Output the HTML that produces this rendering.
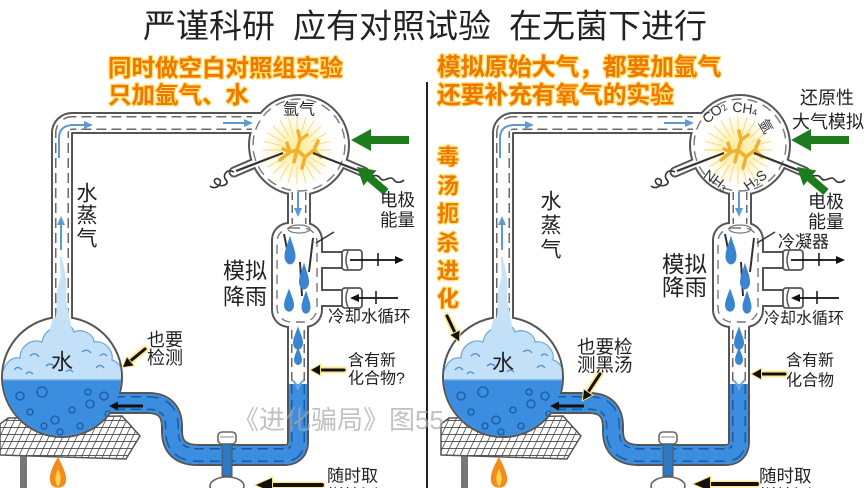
<!DOCTYPE html>
<html><head><meta charset="utf-8"><title>Miller</title>
<style>
html,body{margin:0;padding:0;background:#fff;width:868px;height:488px;overflow:hidden}
svg{display:block}
text{font-family:"Liberation Sans","Noto Sans CJK SC",sans-serif;dominant-baseline:central}
.k{fill:#222}
.o{fill:#f07800;font-weight:bold;stroke:#ffe070;stroke-width:2.5;paint-order:stroke;stroke-linejoin:round}
.m{text-anchor:middle}
.g{fill:#333;font-size:14px}
</style></head><body>
<svg width="868" height="488" viewBox="0 0 868 488" xmlns="http://www.w3.org/2000/svg">
<defs>
<radialGradient id="gl" cx="0.5" cy="0.5" r="0.5">
<stop offset="0" stop-color="#ffe98a"/>
<stop offset="0.55" stop-color="#fff3c0" stop-opacity="0.85"/>
<stop offset="1" stop-color="#fffbe8" stop-opacity="0"/>
</radialGradient>
<clipPath id="fc"><circle cx="62" cy="377" r="59"/></clipPath>
<pattern id="mesh" width="7" height="7" patternUnits="userSpaceOnUse" patternTransform="skewX(-25)">
<rect width="7" height="7" fill="#fff"/>
<path d="M0,0 H7 M0,0 V7" stroke="#4a4a4a" stroke-width="1.8"/>
</pattern>
<path id="drop" d="M0,-9 C2,-4 5,0 5,4 A5,5 0 0 1 -5,4 C-5,0 -2,-4 0,-9Z" fill="#3a84d0"/>
<g id="app">
 <rect x="20" y="452" width="7" height="36" fill="#777"/>
 <polygon points="8,418 122,416 140,436 126,459 0,455 0,424" fill="url(#mesh)" stroke="#555" stroke-width="1.5"/>
 <path d="M58,457 C52,467 49,475 50,481 C51,490 65,490 66,481 C67,475 63,467 58,457Z" fill="#f38a1c"/>
 <path d="M58,469 C55,475 54,481 58,487 C62,481 61,475 58,469Z" fill="#ffd54a"/>
 <g fill="none" stroke="#555" stroke-linejoin="round">
  <path d="M62,335 V133 A10,10 0 0 1 72,123 H262" stroke-width="22"/>
  <path d="M299,185 V232" stroke-width="24"/>
  <path d="M298,322 V441 Q298,455 284,455 H198 Q172,455 172,431 V427 Q172,403 148,403 H100" stroke-width="22"/>
  <path d="M318,260 H346 M318,298 H346" stroke-width="18"/>
  <path d="M234,172 L262,160 M364,172 L336,160" stroke-width="11" stroke-linecap="round"/>
 </g>
 <circle cx="299" cy="145" r="51" fill="#555"/>
 <rect x="271" y="222" width="52" height="106" rx="18" fill="#555"/>
 <circle cx="62" cy="377" r="61" fill="#555"/>
 <g fill="none" stroke="#fff" stroke-linejoin="round">
  <path d="M62,335 V133 A10,10 0 0 1 72,123 H262" stroke-width="18"/>
  <path d="M299,185 V232" stroke-width="20"/>
  <path d="M298,322 V441 Q298,455 284,455 H198 Q172,455 172,431 V427 Q172,403 148,403 H100" stroke-width="18"/>
  <path d="M318,260 H346 M318,298 H346" stroke-width="14"/>
  <path d="M234,172 L262,160 M364,172 L336,160" stroke-width="7" stroke-linecap="round"/>
 </g>
 <circle cx="299" cy="145" r="49" fill="#fff"/>
 <rect x="273" y="224" width="48" height="102" rx="16" fill="#fff"/>
 <circle cx="62" cy="377" r="59" fill="#fff"/>
 <g fill="#fff" stroke="#555" stroke-width="1.8">
  <rect x="342" y="250" width="20" height="20" rx="3"/>
  <rect x="342" y="288" width="20" height="20" rx="3"/>
 </g>
 <path d="M348,251 Q344,260 348,269 M348,289 Q344,298 348,307" stroke="#555" fill="none" stroke-width="1.5"/>
 <g fill="none">
  <path d="M62,318 V133 A10,10 0 0 1 72,123 H252" stroke="#6a6a6a" stroke-width="14" stroke-dasharray="10 5"/>
  <path d="M62,318 V133 A10,10 0 0 1 72,123 H252" stroke="#fff" stroke-width="11"/>
  <path d="M299,192 V224" stroke="#6a6a6a" stroke-width="15" stroke-dasharray="8 5"/>
  <path d="M299,192 V224" stroke="#fff" stroke-width="12"/>
  <path d="M298,330 V384" stroke="#6a6a6a" stroke-width="14" stroke-dasharray="9 5"/>
  <path d="M298,330 V384" stroke="#fff" stroke-width="11"/>
  <circle cx="299" cy="145" r="46" stroke="#777" stroke-width="1.4" stroke-dasharray="10 6"/>
  <rect x="277" y="228" width="40" height="94" rx="14" stroke="#777" stroke-width="1.4" stroke-dasharray="9 6"/>
 </g>
 <g fill="none">
  <path d="M298,384 V441 Q298,455 284,455 H198 Q172,455 172,431 V427 Q172,403 148,403 H104" stroke="#3a8ddf" stroke-width="18"/>
  <path d="M298,384 V441 Q298,455 284,455 H198 Q172,455 172,431 V427 Q172,403 148,403 H104" stroke="#1f5a9e" stroke-width="14" stroke-dasharray="10 6"/>
  <path d="M298,384 V441 Q298,455 284,455 H198 Q172,455 172,431 V427 Q172,403 148,403 H104" stroke="#3a8ddf" stroke-width="11"/>
 </g>
 <path d="M292,380 Q298,385 298,390 Q298,385 304,380" stroke="#6aa8e0" stroke-width="2" fill="none"/>
 <rect x="218" y="432" width="18" height="12" rx="4" fill="#fff" stroke="#666" stroke-width="1.6"/>
 <path d="M220,437 H234" stroke="#888" stroke-width="1"/>
 <rect x="222" y="444" width="10" height="32" fill="#2f78c4" stroke="#555" stroke-width="1"/>
 <ellipse cx="227" cy="486" rx="17" ry="9" fill="#fff" stroke="#666" stroke-width="1.6"/>
 <g clip-path="url(#fc)">
  <rect x="0" y="378" width="130" height="70" fill="#3a8ddf"/>
  <path d="M2,380 C2,366 10,356 20,358 C20,346 32,338 42,342 C44,332 52,326 58,330 C62,322 72,324 74,332 C82,328 94,334 94,342 C104,340 114,350 112,360 C120,362 124,372 122,380 Z" fill="#c2e0f7" stroke="#6aa6d8" stroke-width="1.2"/>
  <path d="M48,336 C52,326 50,322 55,316 L69,316 C72,324 70,330 74,338 Z" fill="#c2e0f7"/>
  <path d="M14,370 q4,-5 8,0 M30,356 q5,-5 9,1 M46,366 q4,-4 8,0 M82,352 q5,-4 9,1 M96,368 q4,-5 8,0 M66,372 q3,-4 7,0 M100,356 q3,-4 7,0 M26,374 q3,-4 7,0" stroke="#4d8fcf" stroke-width="1.3" fill="none"/>
  <g fill="none" stroke="#1a5aa0" stroke-width="1.3">
   <circle cx="20" cy="396" r="4"/><circle cx="42" cy="392" r="5"/><circle cx="30" cy="412" r="3"/>
   <circle cx="55" cy="420" r="4"/><circle cx="72" cy="410" r="3"/><circle cx="90" cy="404" r="4"/>
   <circle cx="104" cy="396" r="4"/><circle cx="80" cy="426" r="3"/><circle cx="60" cy="432" r="3"/>
   <circle cx="44" cy="426" r="3"/><circle cx="108" cy="414" r="3"/><circle cx="88" cy="392" r="3"/>
  </g>
 </g>
 <path d="M55,320 C59,305 54,296 60,280 C62,270 58,262 61,255 C64,266 68,280 66,300 C68,308 70,314 69,320 Z" fill="#c8e3f8"/>
 <ellipse cx="299" cy="229" rx="11" ry="4" fill="none" stroke="#777" stroke-width="1.2"/>
 <path d="M284,234 L290,264 M313,238 L309,272 M300,262 L302,296" stroke="#333" stroke-width="2" fill="none"/>
 <use href="#drop" transform="translate(290,250) scale(1.1,1.6)"/>
 <use href="#drop" transform="translate(304,276) scale(1,1.5)"/>
 <use href="#drop" transform="translate(289,300) scale(1,1.3)"/>
 <use href="#drop" transform="translate(306,302) scale(0.9,1.3)"/>
 <use href="#drop" transform="translate(298,338) scale(1,1.3)"/>
 <use href="#drop" transform="translate(298,356) scale(0.8,1)"/>
 <path d="M316,243 L334,232" stroke="#333" stroke-width="1.5"/>
 <circle cx="297" cy="150" r="36" fill="url(#gl)"/>
 <path d="M313,150L331,150M312.5,154.1L329.8,158.8M310.9,158L326.4,167M308.3,161.3L321,174M305,163.9L314,179.4M301.1,165.5L305.8,182.8M297,166L297,184M292.9,165.5L288.2,182.8M289,163.9L280,179.4M285.7,161.3L273,174M283.1,158L267.6,167M281.5,154.1L264.2,158.8M281,150L263,150M281.5,145.9L264.2,141.2M283.1,142L267.6,133M285.7,138.7L273,126M289,136.1L280,120.6M292.9,134.5L288.2,117.2M297,134L297,116M301.1,134.5L305.8,117.2M305,136.1L314,120.6M308.3,138.7L321,126M310.9,142L326.4,133M312.5,145.9L329.8,141.2" stroke="#f3d878" stroke-width="0.9"/>
 <path d="M280,160 L290,152 L287,143 M290,152 L297,150 L300,140 L298,131 M300,140 L307,135 M297,150 L305,157 L314,150 L318,141 M314,150 L321,157 M305,157 L302,168 M290,152 L283,149 M297,150 L294,162" stroke="#f0b030" stroke-width="3.5" stroke-linecap="round" stroke-linejoin="round" fill="none"/>
 <path d="M236,171 L283,153 M313,153 L362,172" stroke="#333" stroke-width="2.2"/>
 <path d="M234,172 C226,168 222,176 226,180 C230,184 222,188 216,184 C212,181 216,176 220,180 C222,186 214,190 210,186" stroke="#333" stroke-width="1.6" fill="none"/>
 <path d="M364,173 C370,180 376,172 380,178 C384,184 390,174 394,180 C397,184 402,182 404,180" stroke="#333" stroke-width="1.6" fill="none"/>
 <g stroke="#5b9bd5" stroke-width="2" fill="none">
  <path d="M223,123 H246"/>
  <path d="M59,158 V138 Q59,126 72,125 H85"/>
  <path d="M61,250 V224"/>
  <path d="M298,192 V209"/>
 </g>
 <g fill="#5b9bd5">
  <polygon points="253,123 244,119 244,127"/>
  <polygon points="93,125 84,121 84,129"/>
  <polygon points="61,216 57,225 65,225"/>
  <polygon points="298,217 294,208 302,208"/>
 </g>
 <path d="M143,406 H118" stroke="#111" stroke-width="3"/>
 <polygon points="109,406 118,401.5 118,410.5" fill="#111"/>
 <path d="M350,260 H396 M398,298 H356" stroke="#111" stroke-width="1.8"/>
 <polygon points="404,260 395,256 395,264" fill="#111"/>
 <polygon points="350,298 359,294 359,302" fill="#111"/>
 <path d="M378,253 V266 M376,291 V304" stroke="#111" stroke-width="1.5"/>
</g>
</defs>

<use href="#app"/>
<use href="#app" transform="translate(441,0)"/>

<text x="143" y="26" font-size="33" class="k">严谨科研</text>
<text x="293" y="26" font-size="33" class="k">应有对照试验</text>
<text x="509" y="26" font-size="33" class="k">在无菌下进行</text>

<line x1="427" y1="82" x2="427" y2="488" stroke="#222" stroke-width="2"/>

<text x="108" y="68" font-size="23.5" class="o">同时做空白对照组实验</text>
<text x="108" y="95" font-size="23.5" class="o">只加氩气、水</text>
<text x="437" y="68" font-size="23.7" class="o">模拟原始大气，都要加氩气</text>
<text x="437" y="96" font-size="23.7" class="o">还要补充有氧气的实验</text>
<g font-size="22" class="o m">
<text x="448" y="157">毒</text><text x="448" y="186">汤</text><text x="448" y="214">扼</text>
<text x="448" y="243">杀</text><text x="448" y="271">进</text><text x="448" y="299">化</text>
</g>

<g fill="#1d7a1d">
<polygon points="351,140 371,129 371,136 409,136 409,144 371,144 371,151"/>
<polygon points="357,167 376.4,170.5 372.5,175.1 388.6,189 383.4,195 367.3,181.1 363.4,185.7"/>
<polygon points="791,140 811,129 811,136 849,136 849,144 811,144 811,151"/>
<polygon points="797,167 816.4,170.5 812.5,175.1 828.6,189 823.4,195 807.3,181.1 803.4,185.7"/>
</g>

<g stroke-linecap="round">
<g stroke="#ffe27a" stroke-width="7" fill="none" opacity="0.8">
<path d="M145,349 L130,361.3"/><path d="M344,370 H320"/><path d="M322,485 H272"/>
<path d="M447,316 L455.1,332.9"/><path d="M600,374 L587.9,392.4"/><path d="M785,374 H761"/><path d="M757,484 H710"/>
</g>
<g stroke="#111" stroke-width="3" fill="none">
<path d="M145,349 L130,361.3"/><path d="M344,370 H320"/><path d="M322,485 H272" stroke-width="4"/>
<path d="M447,316 L455.1,332.9"/><path d="M600,374 L587.9,392.4"/><path d="M785,374 H761"/><path d="M757,484 H710" stroke-width="4"/>
</g>
<g fill="#111" stroke="#ffe27a" stroke-width="2" paint-order="stroke">
<polygon points="123,367 133.5,365.5 127,357.5"/>
<polygon points="311,370 320,365 320,375"/>
<polygon points="256,485 272,478 272,492"/>
<polygon points="459,341 459.6,330.6 450.6,335"/>
<polygon points="583,400 592,395.2 584,389.6"/>
<polygon points="752,374 761,369 761,379"/>
<polygon points="694,484 710,477 710,491"/>
</g>
</g>

<text x="299" y="110" font-size="16" class="k m">氩气</text>
<text x="380" y="200" font-size="17.5" class="k">电极</text>
<text x="380" y="220" font-size="17.5" class="k">能量</text>
<g font-size="21" class="k m">
<text x="87" y="194">水</text><text x="87" y="216">蒸</text><text x="87" y="239">气</text>
</g>
<text x="223" y="271" font-size="22" class="k">模拟</text>
<text x="223" y="297" font-size="22" class="k">降雨</text>
<text x="328" y="317" font-size="16.5" class="k">冷却水循环</text>
<text x="147" y="340" font-size="18" class="k">也要</text>
<text x="147" y="358" font-size="18" class="k">检测</text>
<text x="62" y="362" font-size="22" class="k m">水</text>
<text x="348" y="361" font-size="16" class="k">含有新</text>
<text x="348" y="379" font-size="16" class="k">化合物?</text>
<text x="327" y="476" font-size="17" class="k">随时取</text>
<text x="327" y="496" font-size="17" class="k">样检测</text>

<text x="800" y="98" font-size="18" class="k">还原性</text>
<text x="792" y="122" font-size="18" class="k">大气模拟</text>
<text x="808" y="202" font-size="18" class="k">电极</text>
<text x="808" y="222" font-size="18" class="k">能量</text>
<text x="778" y="242" font-size="17" class="k">冷凝器</text>
<g font-size="21" class="k m">
<text x="551" y="202">水</text><text x="551" y="226">蒸</text><text x="551" y="250">气</text>
</g>
<text x="662" y="265" font-size="22.5" class="k">模拟</text>
<text x="662" y="288" font-size="22.5" class="k">降雨</text>
<text x="764" y="319" font-size="16" class="k">冷却水循环</text>
<text x="577" y="347" font-size="18.5" class="k">也要检</text>
<text x="577" y="365" font-size="18.5" class="k">测黑汤</text>
<text x="503" y="363" font-size="22" class="k m">水</text>
<text x="786" y="361" font-size="16" class="k">含有新</text>
<text x="786" y="381" font-size="16" class="k">化合物</text>
<text x="759" y="476" font-size="17.5" class="k">随时取</text>
<text x="759" y="496" font-size="17.5" class="k">样检测</text>

<text class="g m" transform="translate(714,112) rotate(-40)">CO<tspan font-size="9" dy="3">2</tspan></text>
<text class="g m" transform="translate(745,108) rotate(8)">CH<tspan font-size="9" dy="3">4</tspan></text>
<text class="g m" font-size="15" transform="translate(766,126) rotate(60)">氩</text>
<text class="g m" transform="translate(716,180) rotate(35)">NH<tspan font-size="9" dy="3">3</tspan></text>
<text class="g m" transform="translate(755,180) rotate(-35)">H<tspan font-size="9" dy="3">2</tspan><tspan dy="-3">S</tspan></text>

<text x="233" y="420" font-size="26" fill="#a8a8a8" opacity="0.7">《进化骗局》图55</text>
</svg>
</body></html>
